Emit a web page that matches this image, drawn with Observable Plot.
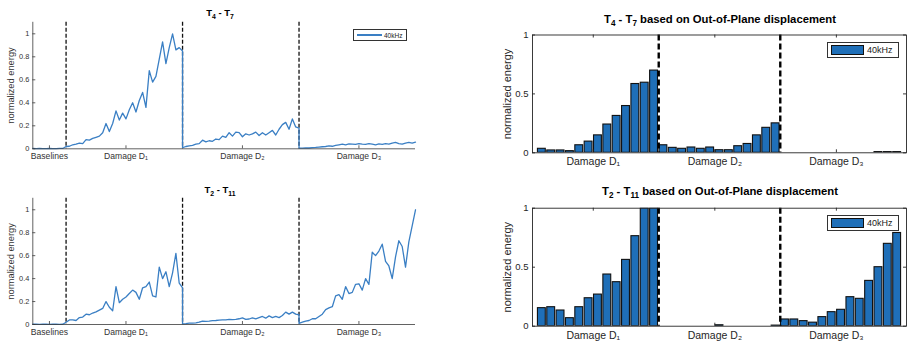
<!DOCTYPE html>
<html>
<head>
<meta charset="utf-8">
<script src="https://cdn.jsdelivr.net/npm/d3@7"></script>
<script src="https://cdn.jsdelivr.net/npm/@observablehq/plot@0.6"></script>
<style>
  html, body { margin: 0; padding: 0; background: #fff; }
  body { width: 907px; height: 347px; overflow: hidden; position: relative;
         font-family: "Liberation Sans", Arial, Helvetica, sans-serif; }
  .panel { position: absolute; }
  .title { position: absolute; font-weight: bold; color: #000; white-space: nowrap;
           transform: translate(-50%, -50%); line-height: 1; }
  .title sub { font-size: 0.72em; vertical-align: -0.35em; line-height: 0; }
  .legend { position: absolute; box-sizing: border-box; border: 1px solid #333; background: #fff; }
  .legend .lbl { position: absolute; color: #222; line-height: 1; white-space: nowrap; }
</style>
</head>
<body>
<div id="tl" class="panel" style="left:0;top:0"></div>
<div id="bl" class="panel" style="left:0;top:175px"></div>
<div id="tr" class="panel" style="left:480px;top:0"></div>
<div id="br" class="panel" style="left:480px;top:175px"></div>

<div class="title" style="left:220px;top:13px;font-size:9.5px">T<sub>4</sub> - T<sub>7</sub></div>
<div class="title" style="left:220px;top:190px;font-size:9.5px">T<sub>2</sub> - T<sub>11</sub></div>
<div class="title" style="left:720px;top:20px;font-size:11.3px">T<sub>4</sub> - T<sub>7</sub> based on Out-of-Plane displacement</div>
<div class="title" style="left:720px;top:192px;font-size:11.3px">T<sub>2</sub> - T<sub>11</sub> based on Out-of-Plane displacement</div>

<div class="legend" style="left:353px;top:29px;width:54px;height:12px">
  <div style="position:absolute;left:3px;top:4.4px;width:25px;height:1.6px;background:#3a7fc4"></div>
  <div class="lbl" style="left:30px;top:2.5px;font-size:6.5px">40kHz</div>
</div>
<div class="legend" style="left:827px;top:41.5px;width:72px;height:16px">
  <div style="position:absolute;box-sizing:border-box;left:3px;top:2.8px;width:33px;height:9.3px;background:#1f6fb8;border:1.2px solid #111"></div>
  <div class="lbl" style="left:39px;top:3px;font-size:9px">40kHz</div>
</div>
<div class="legend" style="left:827px;top:214.5px;width:72px;height:16px">
  <div style="position:absolute;box-sizing:border-box;left:3px;top:2.8px;width:33px;height:9.3px;background:#1f6fb8;border:1.2px solid #111"></div>
  <div class="lbl" style="left:39px;top:3px;font-size:9px">40kHz</div>
</div>

<script>
// ---------------- DATA ----------------
const lineSegments = ["Baselines", "Damage D\u2081", "Damage D\u2082", "Damage D\u2083"];
const lineTickPos = [5, 28, 63, 98];
const lineBoundaries = [10, 45, 80];
const lineSegStart = [0, 10, 45, 80];
const lineYTicks = [0, 0.2, 0.4, 0.6, 0.8, 1];

// T4 - T7 (line, 40kHz)
const t47Baseline = [0.003,0.002,0.003,0.002,0.002,0.003,0.002,0.002,0.003,0.003];
const t47D1 = [0.02,0.022,0.035,0.04,0.05,0.045,0.08,0.075,0.09,0.1,0.11,0.14,0.22,0.15,0.22,0.33,0.25,0.31,0.26,0.34,0.40,0.32,0.42,0.49,0.36,0.68,0.58,0.63,0.78,0.93,0.74,0.88,1.0,0.86,0.88,0.85];
const t47D2 = [0.01,0.02,0.025,0.03,0.04,0.045,0.075,0.06,0.07,0.065,0.085,0.08,0.11,0.1,0.14,0.11,0.145,0.14,0.105,0.13,0.12,0.13,0.145,0.115,0.14,0.12,0.14,0.16,0.12,0.17,0.21,0.23,0.17,0.26,0.19,0.18];
const t47D3 = [0.005,0.006,0.008,0.007,0.01,0.012,0.015,0.018,0.02,0.025,0.022,0.03,0.035,0.04,0.035,0.042,0.04,0.038,0.045,0.04,0.038,0.045,0.04,0.035,0.042,0.038,0.045,0.04,0.05,0.055,0.045,0.04,0.05,0.055,0.05,0.058];

// T2 - T11 (line, 40kHz)
const t211Baseline = [0.002,0.002,0.001,0.002,0.002,0.001,0.002,0.002,0.001,0.002];
const t211D1 = [0.02,0.04,0.04,0.035,0.06,0.065,0.09,0.085,0.1,0.11,0.125,0.14,0.2,0.15,0.12,0.33,0.19,0.22,0.24,0.27,0.3,0.28,0.22,0.32,0.33,0.37,0.25,0.24,0.5,0.40,0.46,0.33,0.45,0.62,0.36,0.32];
const t211D2 = [0.006,0.008,0.012,0.012,0.015,0.02,0.03,0.028,0.03,0.033,0.035,0.038,0.04,0.04,0.045,0.042,0.045,0.05,0.058,0.045,0.048,0.058,0.05,0.06,0.07,0.055,0.075,0.06,0.07,0.06,0.078,0.108,0.09,0.108,0.09,0.085];
const t211D3 = [0.01,0.02,0.03,0.035,0.05,0.05,0.07,0.09,0.13,0.145,0.155,0.25,0.26,0.22,0.33,0.27,0.28,0.35,0.355,0.3,0.40,0.35,0.63,0.6,0.64,0.7,0.55,0.51,0.4,0.59,0.73,0.68,0.5,0.72,0.86,1.0];

// Bar panels (Out-of-Plane displacement, 40kHz)
const barSegments = ["Damage D\u2081", "Damage D\u2082", "Damage D\u2083"];
const barTickPos = [6.5, 19.5, 32.5];
const barBoundaries = [13.5, 26.5];
const barYTicks = [0, 0.5, 1];
const t47Bars = [0.034,0.02,0.02,0.014,0.064,0.095,0.148,0.24,0.313,0.397,0.584,0.595,0.698,
                 0.064,0.042,0.034,0.045,0.034,0.045,0.022,0.022,0.056,0.075,0.148,0.212,0.25,
                 0,0,0,0,0,0,0,0,0,0,0.006,0.006,0.006];
const t211Bars = [0.153,0.161,0.133,0.068,0.161,0.237,0.268,0.438,0.373,0.562,0.763,1.0,1.0,
                  0,0,0,0,0,0,0.008,0,0,0,0,0,0.005,
                  0.057,0.057,0.043,0.03,0.077,0.119,0.139,0.246,0.232,0.384,0.5,0.698,0.79];

// ---------------- DRAWING ----------------
const LINE_COLOR = "#3a7fc4";
const BAR_COLOR = "#1f6fb8";
const AX = "#3a3a3a";

function linePanel(hostId, segs, m) {
  const data = [];
  segs.forEach((arr, s) => arr.forEach((v, i) => data.push({x: lineSegStart[s] + i, y: v})));
  const W = 420, H = m.H;
  const plotW = W - m.L - m.R, plotH = H - m.T - m.B;
  const chart = Plot.plot({
    width: W, height: H,
    marginLeft: m.L, marginRight: m.R, marginTop: m.T, marginBottom: m.B,
    x: {domain: [0, 115], axis: null},
    y: {domain: [0, 1.1], axis: null},
    style: {fontFamily: '"Liberation Sans", Arial, sans-serif', color: "#333", background: "transparent", overflow: "visible"},
    marks: [
      Plot.ruleX(lineBoundaries, {x: d => d, stroke: "#111", strokeWidth: 1.3, strokeDasharray: "4,2"}),
      Plot.line(data, {x: "x", y: "y", stroke: LINE_COLOR, strokeWidth: 1.3}),
      Plot.ruleY([0], {stroke: AX, strokeWidth: 0.8}),
      Plot.ruleX([0], {stroke: AX, strokeWidth: 0.8}),
      Plot.ruleX(lineTickPos, {x: d => d, stroke: AX, strokeWidth: 0.8, insetTop: plotH - 3}),
      Plot.ruleY(lineYTicks, {y: d => d, stroke: AX, strokeWidth: 0.8, insetRight: plotW - 3}),
      Plot.text(lineYTicks, {y: d => d, text: d => String(d), frameAnchor: "left", textAnchor: "end", dx: -3.5, fontSize: 7.4, fill: "#333"}),
      Plot.text(lineSegments, {x: (d, i) => lineTickPos[i], text: d => d, frameAnchor: "bottom", textAnchor: "middle", lineAnchor: "top", dy: 4, fontSize: 8.6, fill: "#333"}),
      Plot.text(["normalized energy"], {text: d => d, frameAnchor: "left", textAnchor: "middle", rotate: -90, dx: -22, fontSize: 9.3, fill: "#333"})
    ]
  });
  document.getElementById(hostId).appendChild(chart);
}

function barPanel(hostId, values, m) {
  const data = values.map((v, i) => ({i: i + 1, v}));
  const W = 427, H = m.H;
  const plotW = W - m.L - m.R, plotH = H - m.T - m.B;
  const chart = Plot.plot({
    width: W, height: H,
    marginLeft: m.L, marginRight: m.R, marginTop: m.T, marginBottom: m.B,
    x: {domain: [0, 40], axis: null},
    y: {domain: [0, 1], axis: null},
    style: {fontFamily: '"Liberation Sans", Arial, sans-serif', color: "#262626", background: "transparent", overflow: "visible"},
    marks: [
      Plot.rectY(data.filter(d => d.v > 0), {x1: d => d.i - 0.42, x2: d => d.i + 0.42, y1: 0, y2: d => d.v,
        fill: BAR_COLOR, stroke: "#111", strokeWidth: 1.1, clip: true}),
      Plot.ruleX(barBoundaries, {x: d => d, stroke: "#000", strokeWidth: 2.4, strokeDasharray: "6,3"}),
      Plot.frame({stroke: "#262626", strokeWidth: 0.9}),
      Plot.ruleX(barTickPos, {x: d => d, stroke: "#262626", strokeWidth: 0.9, insetTop: plotH - 3}),
      Plot.ruleX(barTickPos, {x: d => d, stroke: "#262626", strokeWidth: 0.9, insetBottom: plotH - 3}),
      Plot.ruleY(barYTicks, {y: d => d, stroke: "#262626", strokeWidth: 0.9, insetRight: plotW - 3}),
      Plot.ruleY(barYTicks, {y: d => d, stroke: "#262626", strokeWidth: 0.9, insetLeft: plotW - 3}),
      Plot.text(barYTicks, {y: d => d, text: d => String(d), frameAnchor: "left", textAnchor: "end", dx: -4, fontSize: 9.5, fill: "#262626"}),
      Plot.text(barSegments, {x: (d, i) => barTickPos[i], text: d => d, frameAnchor: "bottom", textAnchor: "middle", lineAnchor: "top", dy: 5, fontSize: 10.5, fill: "#262626"}),
      Plot.text(["normalized energy"], {text: d => d, frameAnchor: "left", textAnchor: "middle", rotate: -90, dx: -25, fontSize: 11, fill: "#262626"})
    ]
  });
  document.getElementById(hostId).appendChild(chart);
}

linePanel("tl", [t47Baseline, t47D1, t47D2, t47D3], {H: 175, L: 32.3, R: 5, T: 21.8, B: 26.7});
linePanel("bl", [t211Baseline, t211D1, t211D2, t211D3], {H: 172, L: 32.3, R: 5, T: 22.8, B: 23});
barPanel("tr", t47Bars, {H: 175, L: 52, R: 1, T: 34.5, B: 22.7});
barPanel("br", t211Bars, {H: 172, L: 52, R: 1, T: 32.7, B: 21.3});
</script>
</body>
</html>
